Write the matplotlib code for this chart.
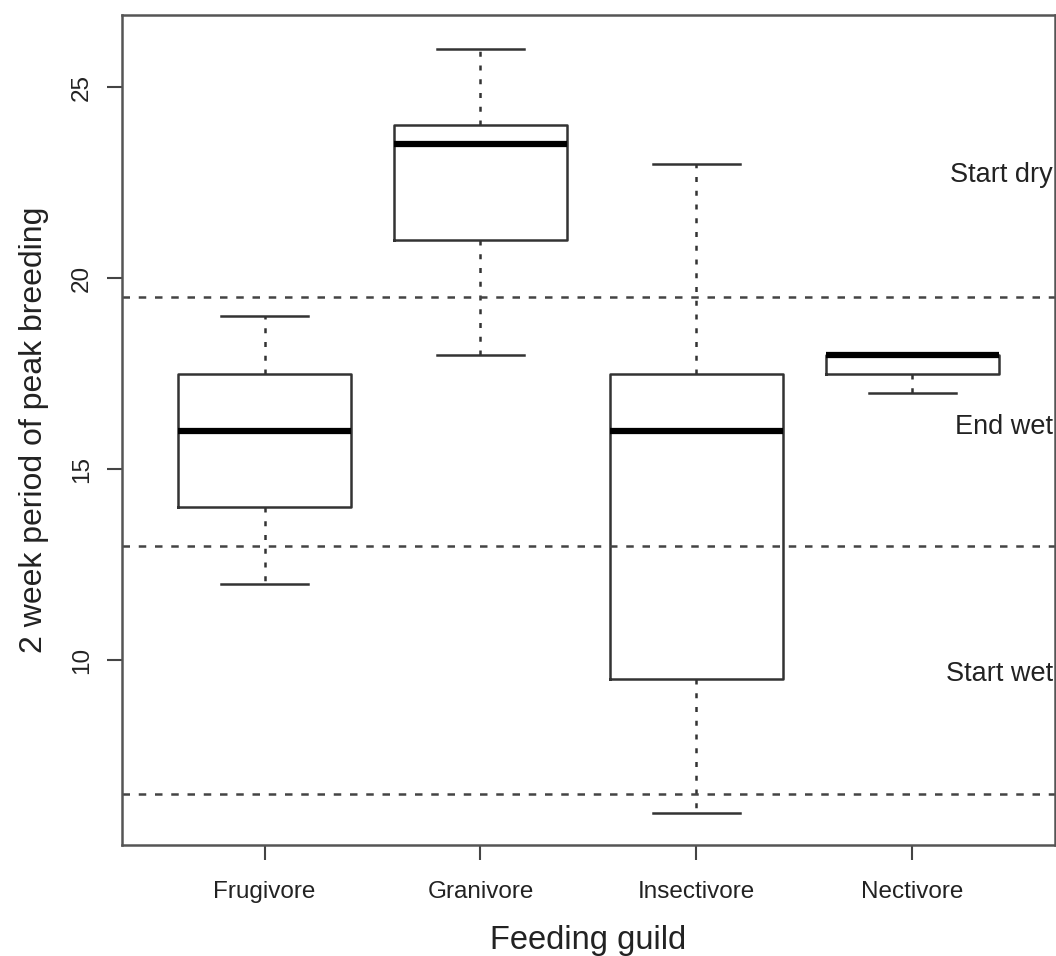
import matplotlib
matplotlib.use('Agg')
import matplotlib.pyplot as plt

plt.rcParams['font.family'] = ['Liberation Sans', 'DejaVu Sans']

# ── Box summaries per feeding guild ───────────────────────────────────────────
guilds   = ["Frugivore", "Granivore", "Insectivore", "Nectivore"]
whis_lo  = [12.0, 18.0, 6.0, 17.0]
q1       = [14.0, 21.0, 9.5, 17.5]
medians  = [16.0, 23.5, 16.0, 18.0]
q3       = [17.5, 24.0, 17.5, 18.0]
whis_hi  = [19.0, 26.0, 23.0, 18.0]

# season boundaries (2 week periods) and their labels
season_lines  = [19.5, 13.0, 6.5]
season_labels = ["Start dry", "End wet", "Start wet"]
season_text_y = [22.7, 16.1, 9.65]

stats = []
for i, g in enumerate(guilds):
    stats.append(dict(label=g, whislo=whis_lo[i], q1=q1[i], med=medians[i],
                      q3=q3[i], whishi=whis_hi[i], fliers=[]))

fig = plt.figure(figsize=(10.56, 9.56), dpi=100)
ax = fig.add_axes([0.1155, 0.116, 0.8835, 0.868])

line_col = '#333333'
ax.bxp(stats, positions=range(1, 5), widths=0.8, showfliers=False,
       boxprops=dict(color=line_col, lw=1.8),
       medianprops=dict(color='black', lw=4.5, solid_capstyle='butt'),
       whiskerprops=dict(color=line_col, lw=1.8, linestyle=(0, (2, 3.5))),
       capprops=dict(color=line_col, lw=1.8), capwidths=0.4)

for yv in season_lines:
    ax.axhline(yv, color='#444444', lw=1.8, linestyle=(0, (3, 3.5)))

for lab, yv in zip(season_labels, season_text_y):
    ax.text(0.998, yv, lab, transform=ax.get_yaxis_transform(),
            ha='right', va='center', fontsize=19.5, color='#222222')

ax.set_xlim(0.34, 4.66)
ax.set_ylim(5.16, 26.88)
ax.set_yticks([10, 15, 20, 25])
ax.set_yticklabels(['10', '15', '20', '25'], rotation=90, va='center')
ax.set_xticks(range(1, 5))
ax.set_xticklabels(guilds)
ax.tick_params(axis='both', length=11, width=1.5, color='#444444',
               labelsize=17.5, labelcolor='#222222', pad=10)
ax.tick_params(axis='x', pad=15)

for s in ax.spines.values():
    s.set_color('#555555')
    s.set_linewidth(1.8)

ax.set_xlabel("Feeding guild", fontsize=23.5, color='#222222', labelpad=16)
ax.set_ylabel("2 week period of peak breeding", fontsize=23, color='#222222',
              labelpad=16)

plt.savefig("out.png", dpi=100)
plt.close()
